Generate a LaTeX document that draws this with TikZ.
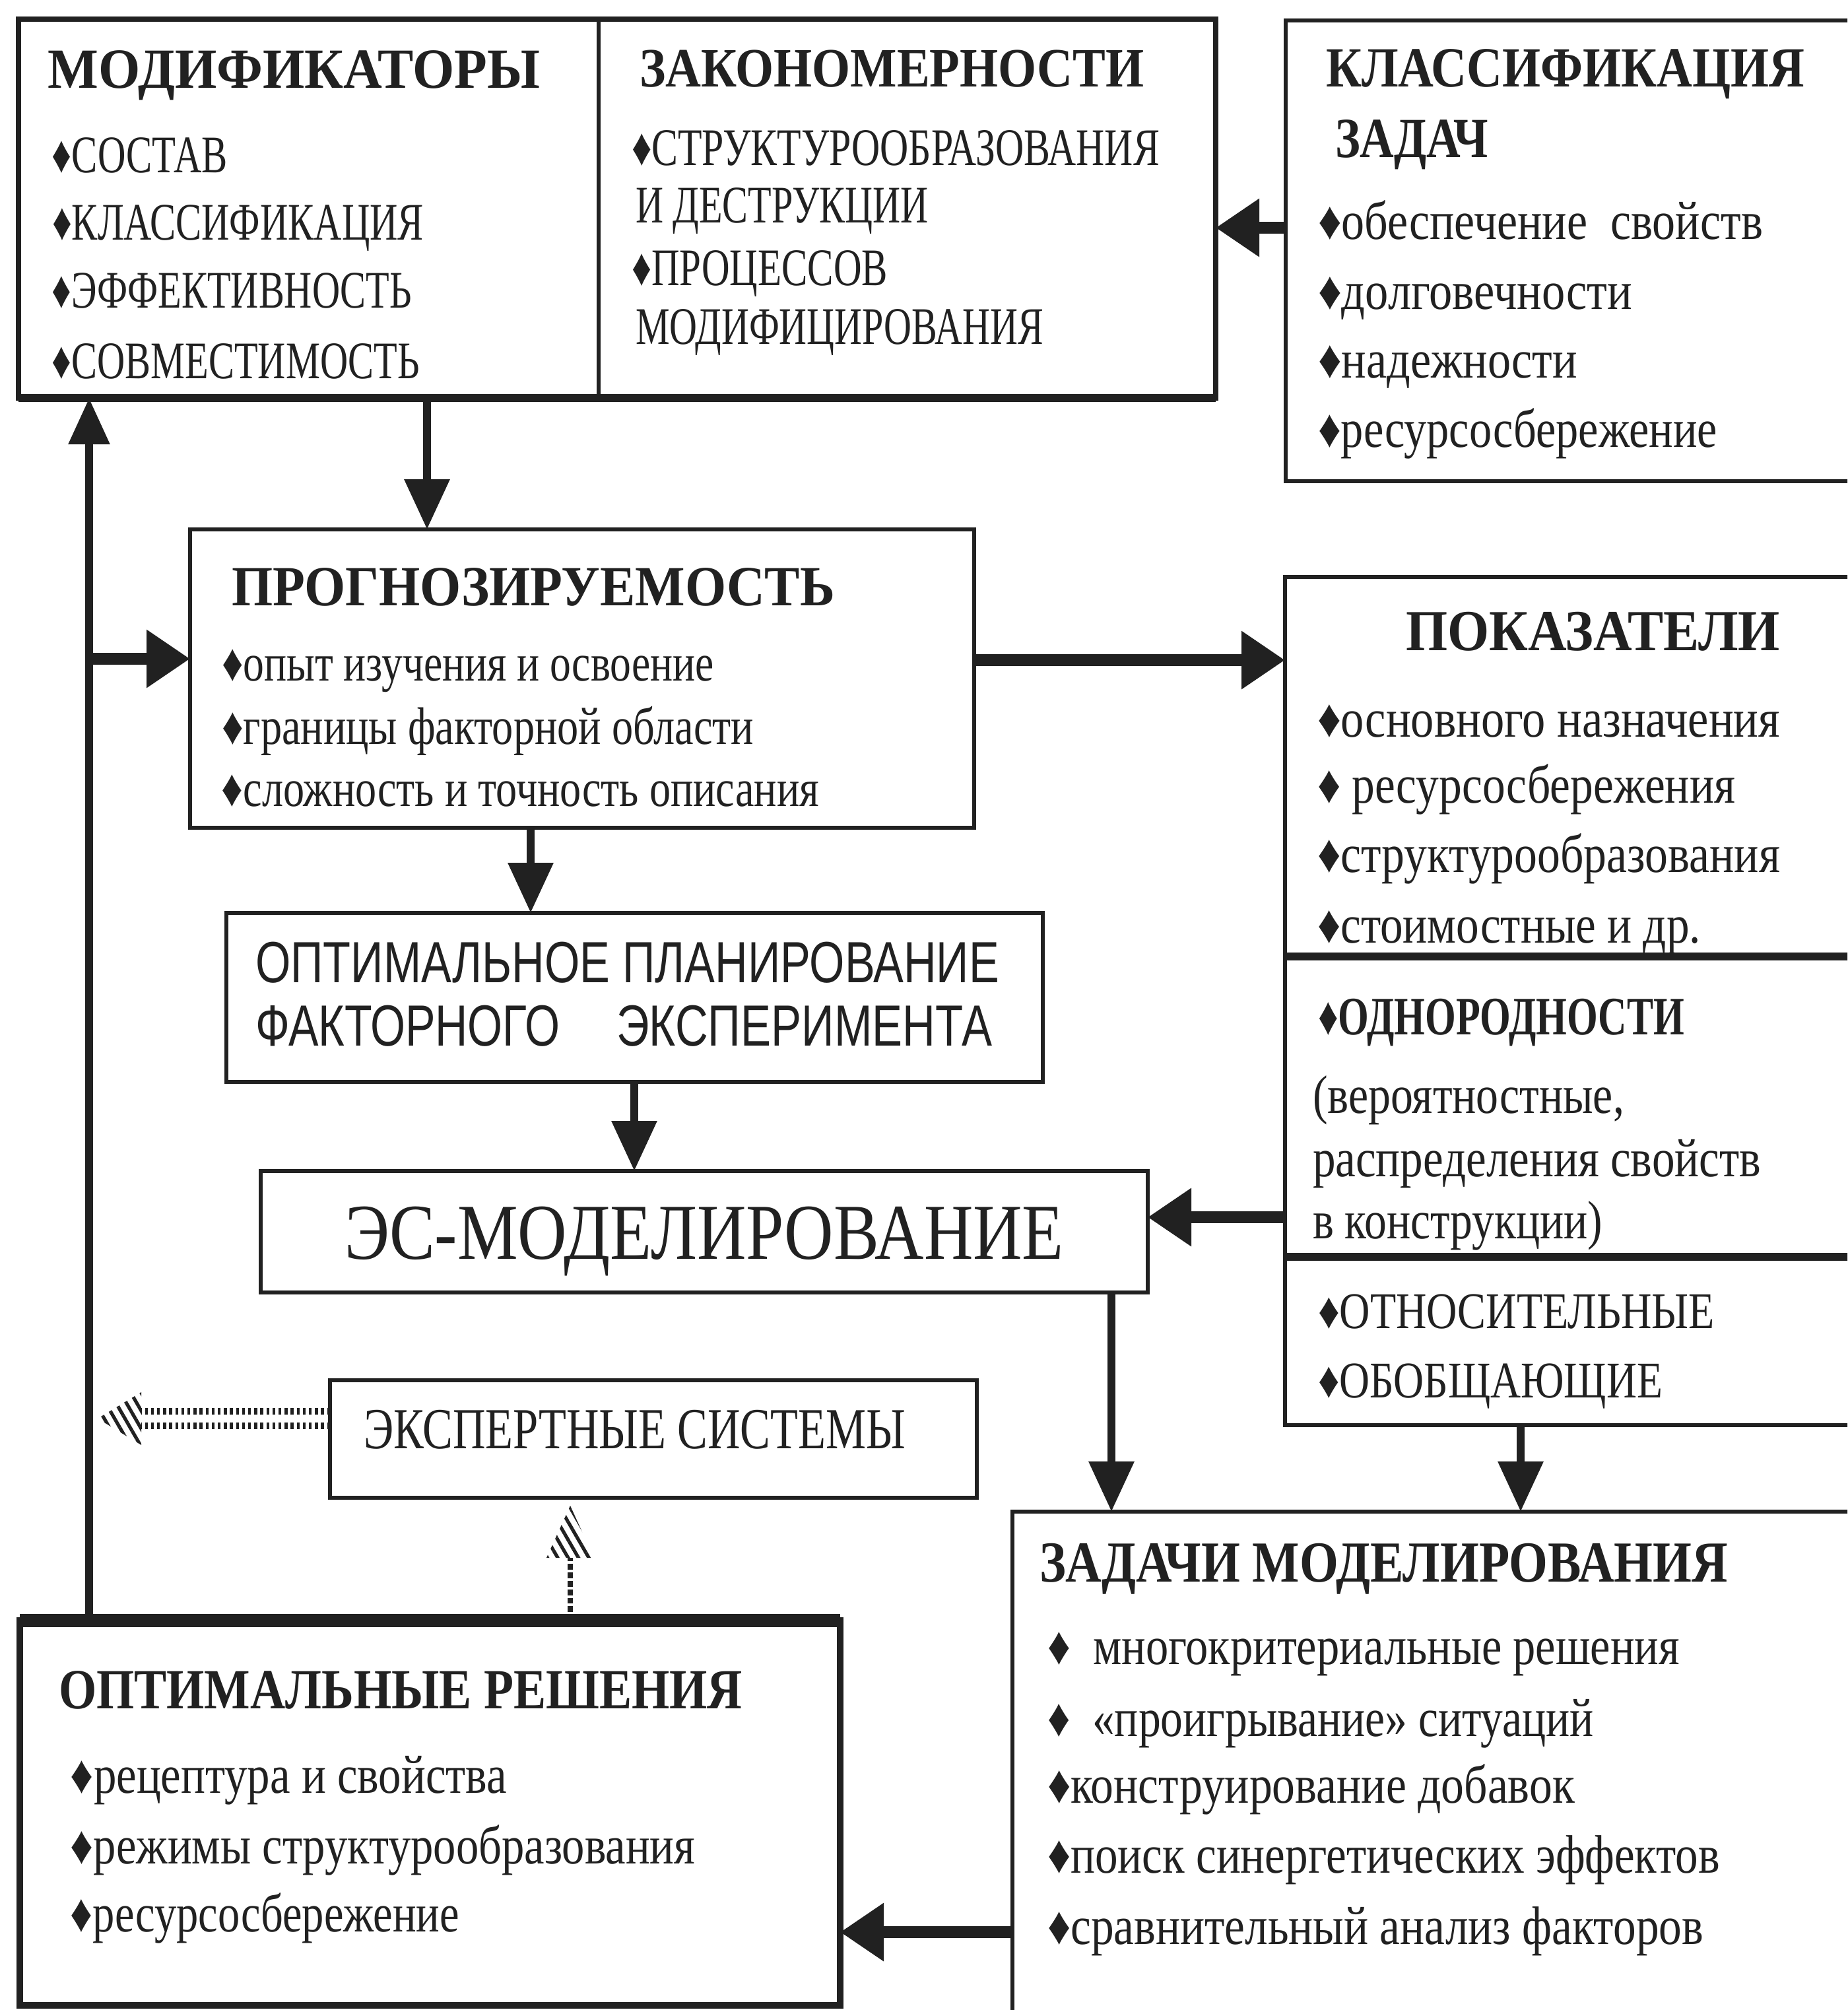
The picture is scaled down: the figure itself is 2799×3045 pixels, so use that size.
\documentclass[tikz,border=0pt]{standalone}
\usepackage{fontspec}
\setmainfont{Liberation Serif}
\newfontfamily\sansf{Liberation Sans}
\usepackage{graphicx}
\usetikzlibrary{arrows.meta,patterns.meta}
\newdimen\pxu \pxu=0.25pt
\newcommand\TX[3]{{\fontsize{#1}{#1}\selectfont\smash{\resizebox{#2\pxu}{\height}{#3}}\rule{0pt}{0.64em}}}
\definecolor{ink}{gray}{0.13}
\begin{document}
\begin{tikzpicture}[x=0.25pt,y=-0.25pt,
  box/.style={draw=ink, line width=1.6pt, inner sep=0pt, outer sep=0pt, anchor=north west},
  tx/.style={anchor=west, inner sep=0pt, outer sep=0pt, text=ink},
  arrH/.style={draw=ink, line width=4.5pt, -{Triangle[length=16.5pt,width=21pt]}},
  arrV/.style={draw=ink, line width=3.2pt, -{Triangle[length=19pt,width=16.5pt]}},
  arrU/.style={draw=ink, line width=3pt, -{Triangle[length=17.5pt,width=15pt]}},
  divline/.style={draw=ink, line width=3pt},
  hatch/.style={pattern={Lines[angle=-60,distance=3.4pt,line width=1.3pt]}, pattern color=ink}
]
\useasboundingbox (0,0) rectangle (2799,3045);
\clip (0,0) rectangle (2799,3045);
\fill[white] (0,0) rectangle (2799,3045);

% ---------- boxes ----------
\node[box, line width=2pt, minimum width=453.5pt, minimum height=143.5pt] (top) at (28,29) {};
\node[box, minimum width=228pt, minimum height=174.5pt] (klass) at (1948,31) {};
\node[box, minimum width=297pt, minimum height=113pt] (prog) at (288,802) {};
\node[box, minimum width=228.25pt, minimum height=321.25pt] (pokaz) at (1947,874) {};
\node[box, minimum width=309.25pt, minimum height=64pt] (optplan) at (343,1383) {};
\node[box, minimum width=336pt, minimum height=46pt] (es) at (395,1774) {};
\node[box, minimum width=245pt, minimum height=44.5pt] (expert) at (500,2091) {};
\node[box, minimum width=331.5pt, minimum height=202.5pt] (zad) at (1534,2290) {};
\node[box, line width=2.6pt, minimum width=310.75pt, minimum height=145.75pt] (optresh) at (30,2455) {};

% dividers
\coordinate (xdiv) at (907,0);
\draw[draw=ink, line width=1.4pt] (top.north -| xdiv) -- (top.south -| xdiv);
\coordinate (yd1) at (0,1449);
\coordinate (yd2) at (0,1904);
\draw[divline] (pokaz.west |- yd1) -- (pokaz.east |- yd1);
\draw[divline] (pokaz.west |- yd2) -- (pokaz.east |- yd2);
\draw[draw=ink, line width=3pt] (top.south west) -- (top.south east);
\draw[draw=ink, line width=5pt] (optresh.north west) -- (optresh.north east);

% ---------- connectors ----------
\coordinate (yK) at (0,345);
\draw[arrH] (klass.west |- yK) -- (top.east |- yK);
\coordinate (xA) at (647,0);
\draw[arrV] (top.south -| xA) -- (prog.north -| xA);
\coordinate (yP) at (0,1000);
\draw[arrH] (prog.east |- yP) -- (pokaz.west |- yP);
\coordinate (xB) at (804,0);
\draw[arrV] (prog.south -| xB) -- (optplan.north -| xB);
\coordinate (xC) at (961,0);
\draw[arrV] (optplan.south -| xC) -- (es.north -| xC);
\coordinate (yE) at (0,1844);
\draw[arrH] (pokaz.west |- yE) -- (es.east |- yE);
\coordinate (xD) at (1684,0);
\draw[arrV] (es.south -| xD) -- (zad.north -| xD);
\coordinate (xF) at (2304,0);
\draw[arrV] (pokaz.south -| xF) -- (zad.north -| xF);
\coordinate (yZ) at (0,2927);
\draw[arrH] (zad.west |- yZ) -- (optresh.east |- yZ);
\coordinate (xL) at (135,0);
\draw[arrU] (optresh.north -| xL) -- (top.south -| xL);
\coordinate (yB) at (0,998);
\draw[arrH] (xL |- yB) -- (prog.west |- yB);

% hatched connector expert -> left line
\coordinate (yH) at (0,2149);
\coordinate (hLbase) at (214,2149);
\coordinate (hLtip) at (148,2149);
\draw[draw=ink, line width=2.6pt, dash pattern=on 1.1pt off 1.2pt] ([yshift=2.8pt]expert.west |- yH) -- ([yshift=2.8pt]hLbase);
\draw[draw=ink, line width=2.6pt, dash pattern=on 1.1pt off 1.2pt] ([yshift=-2.8pt]expert.west |- yH) -- ([yshift=-2.8pt]hLbase);
\path[hatch] (hLtip) -- ([yshift=10pt]hLbase) -- ([yshift=-10pt]hLbase) -- cycle;

% hatched connector optresh -> expert
\coordinate (xh) at (864,0);
\coordinate (hUbase) at (864,2360);
\coordinate (hUtip) at (864,2281);
\draw[draw=ink, line width=2pt, dash pattern=on 2.2pt off 1pt] (optresh.north -| xh) -- (hUbase);
\path[hatch] (hUtip) -- ([xshift=-9pt]hUbase) -- ([xshift=9pt]hUbase) -- cycle;

% ---------- texts ----------
% top left
\node[tx] (t1) at (73,106) {\TX{21.5}{745}{\bfseries МОДИФИКАТОРЫ}};
\node[tx] (t2) at (79,236) {\TX{20}{266}{♦СОСТАВ}};
\node[tx] (t3) at (79,338) {\TX{20}{563}{♦КЛАССИФИКАЦИЯ}};
\node[tx] (t4) at (79,441) {\TX{20}{545}{♦ЭФФЕКТИВНОСТЬ}};
\node[tx] (t5) at (79,548) {\TX{20}{557}{♦СОВМЕСТИМОСТЬ}};
% top right
\node[tx] (t6) at (969,105) {\TX{21}{764}{\bfseries ЗАКОНОМЕРНОСТИ}};
\node[tx] (t7) at (957,225) {\TX{20}{800}{♦СТРУКТУРООБРАЗОВАНИЯ}};
\node[tx] (t8) at (963,312) {\TX{20}{443}{И ДЕСТРУКЦИИ}};
\node[tx] (t9) at (957,407) {\TX{20}{388}{♦ПРОЦЕССОВ}};
\node[tx] (t10) at (963,496) {\TX{20}{618}{МОДИФИЦИРОВАНИЯ}};
% klass
\node[tx] (t11) at (2009,104) {\TX{21.5}{725}{\bfseries КЛАССИФИКАЦИЯ}};
\node[tx] (t12) at (2023,211) {\TX{21.5}{232}{\bfseries ЗАДАЧ}};
\node[tx] (t13) at (1997,336) {\TX{20.5}{674}{♦обеспечение\ \ свойств}};
\node[tx] (t14) at (1997,442) {\TX{20.5}{476}{♦долговечности}};
\node[tx] (t15) at (1997,546) {\TX{20.5}{393}{♦надежности}};
\node[tx] (t16) at (1997,651) {\TX{20.5}{605}{♦ресурсосбережение}};
% prog
\node[tx] (t17) at (351,890) {\TX{21.5}{914}{\bfseries ПРОГНОЗИРУЕМОСТЬ}};
\node[tx] (t18) at (336,1006) {\TX{20}{746}{♦опыт изучения и освоение}};
\node[tx] (t19) at (336,1102) {\TX{20}{806}{♦границы факторной области}};
\node[tx] (t20) at (336,1196) {\TX{20}{905}{♦сложность и точность описания}};
% pokaz
\node[tx] (t21) at (2130,957) {\TX{22}{567}{\bfseries ПОКАЗАТЕЛИ}};
\node[tx] (t22) at (1996,1090) {\TX{20.5}{701}{♦основного назначения}};
\node[tx] (t23) at (1996,1190) {\TX{20.5}{633}{♦ ресурсосбережения}};
\node[tx] (t24) at (1996,1295) {\TX{20.5}{701}{♦структурообразования}};
\node[tx] (t25) at (1996,1402) {\TX{20.5}{581}{♦стоимостные и др.}};
\node[tx] (t26) at (1997,1541) {\TX{20.5}{555}{\bfseries ♦ОДНОРОДНОСТИ}};
\node[tx] (t27) at (1989,1660) {\TX{20.5}{472}{(вероятностные,}};
\node[tx] (t28) at (1989,1756) {\TX{20.5}{679}{распределения свойств}};
\node[tx] (t29) at (1989,1850) {\TX{20.5}{439}{в конструкции)}};
\node[tx] (t30) at (1997,1988) {\TX{19.5}{601}{♦ОТНОСИТЕЛЬНЫЕ}};
\node[tx] (t31) at (1997,2093) {\TX{19.5}{522}{♦ОБОБЩАЮЩИЕ}};
% optplan
\node[tx] (t32) at (387,1460) {\TX{22}{1127}{\sansf ОПТИМАЛЬНОЕ ПЛАНИРОВАНИЕ}};
\node[tx] (t33) at (387,1556) {\TX{22}{461}{\sansf ФАКТОРНОГО}};
\node[tx] (t34) at (934,1556) {\TX{22}{569}{\sansf ЭКСПЕРИМЕНТА}};
% es
\node[tx] (t35) at (522,1869) {\TX{30}{1090}{ЭС-МОДЕЛИРОВАНИЕ}};
% expert
\node[tx] (t36) at (551,2166) {\TX{22}{821}{ЭКСПЕРТНЫЕ СИСТЕМЫ}};
% zadachi
\node[tx] (t37) at (1575,2368) {\TX{22}{1043}{\bfseries ЗАДАЧИ МОДЕЛИРОВАНИЯ}};
\node[tx] (t38) at (1587,2495) {\TX{20.5}{958}{♦\ \ многокритериальные решения}};
\node[tx] (t39) at (1587,2604) {\TX{20.5}{828}{♦\ \ «проигрывание» ситуаций}};
\node[tx] (t40) at (1587,2705) {\TX{20.5}{799}{♦конструирование добавок}};
\node[tx] (t41) at (1587,2811) {\TX{20.5}{1019}{♦поиск синергетических эффектов}};
\node[tx] (t42) at (1587,2919) {\TX{20.5}{994}{♦сравнительный анализ факторов}};
% optresh
\node[tx] (t43) at (89,2561) {\TX{21.5}{1036}{\bfseries ОПТИМАЛЬНЫЕ РЕШЕНИЯ}};
\node[tx] (t44) at (107,2690) {\TX{20.5}{661}{♦рецептура и свойства}};
\node[tx] (t45) at (107,2797) {\TX{20.5}{946}{♦режимы структурообразования}};
\node[tx] (t46) at (107,2900) {\TX{20.5}{589}{♦ресурсосбережение}};
\end{tikzpicture}
\end{document}
